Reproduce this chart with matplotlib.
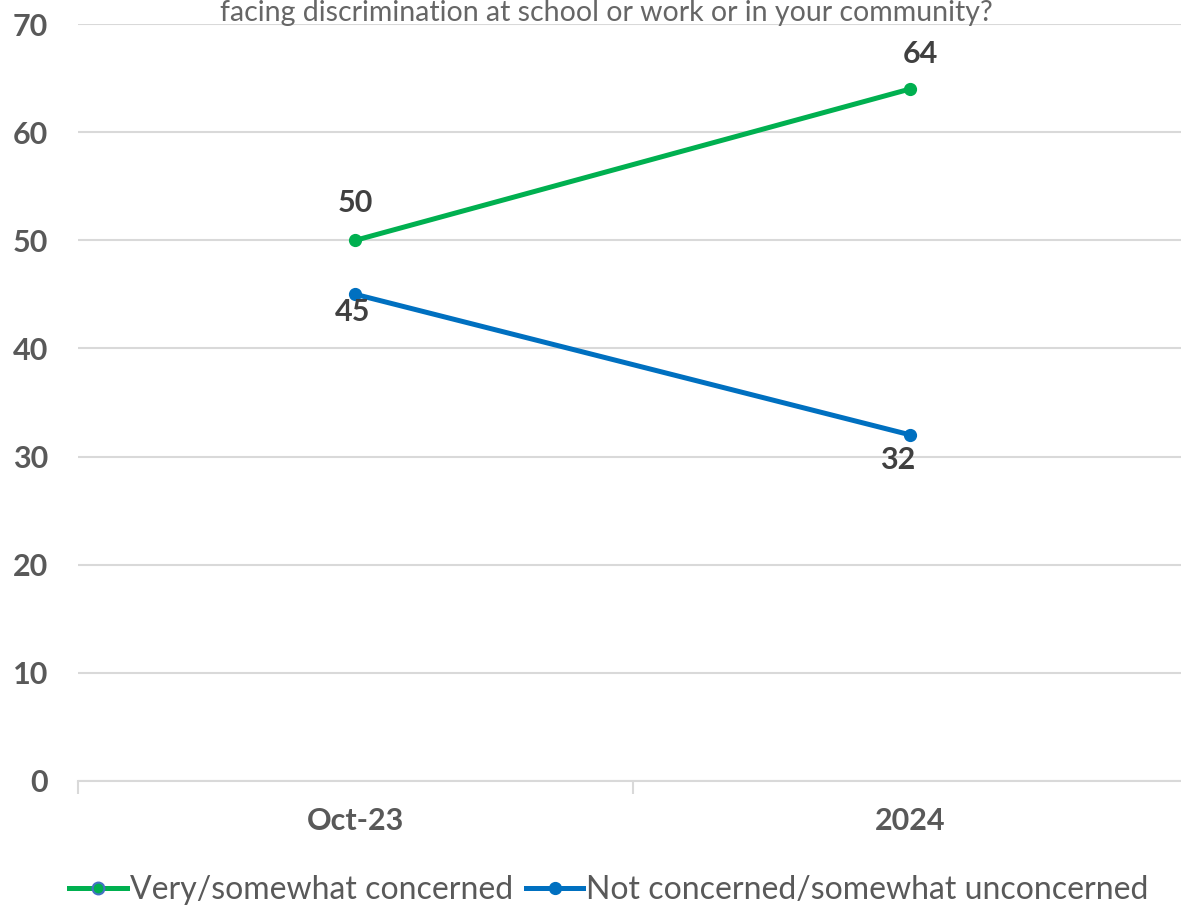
import matplotlib
matplotlib.use("Agg")
import matplotlib.pyplot as plt
from matplotlib.lines import Line2D

categories = ["Oct-23", "2024"]
concerned = [50, 64]
not_concerned = [45, 32]
series_names = ["Very/somewhat concerned", "Not concerned/somewhat unconcerned"]
yticks = [0, 10, 20, 30, 40, 50, 60, 70]
title = "facing discrimination at school or work or in your community?"

plt.rcParams['font.family'] = ['Lato', 'DejaVu Sans']

W, H = 1181, 911
fig = plt.figure(figsize=(W/100, H/100), dpi=100)
ax = fig.add_axes([78/W, (H-781)/H, 1110/W, (781-24)/H])

x = list(range(len(categories)))
green = "#00B050"
blue = "#0070C0"
ax.plot(x, concerned, color=green, lw=3.6, marker='o', ms=8.5, zorder=3)
ax.plot(x, not_concerned, color=blue, lw=3.6, marker='o', ms=8.5, zorder=3)

lab_kw = dict(fontsize=22, fontweight='bold', color='#404040', ha='center', va='center',
              textcoords='offset points')
ax.annotate(str(concerned[0]), (x[0], concerned[0]), xytext=(0, 26.5), **lab_kw)
ax.annotate(str(concerned[1]), (x[1], concerned[1]), xytext=(7.5, 25), **lab_kw)
ax.annotate(str(not_concerned[0]), (x[0], not_concerned[0]), xytext=(-2, -13), **lab_kw)
ax.annotate(str(not_concerned[1]), (x[1], not_concerned[1]), xytext=(-9.5, -18), **lab_kw)

ax.set_xlim(-0.5, 1.5)
ax.set_ylim(0, 70)
ax.set_yticks(yticks)
ax.set_yticklabels([str(v) for v in yticks], fontsize=22, fontweight='bold', color='#595959')
ax.tick_params(axis='y', length=0, pad=21.5)
ax.yaxis.grid(True, color='#D9D9D9', lw=1.5)
ax.set_axisbelow(True)

ax.set_xticks([-0.5, 0.5, 1.5])
ax.set_xticklabels([])
ax.set_xticks(x, minor=True)
ax.set_xticklabels(categories, minor=True, fontsize=22, fontweight='bold', color='#595959')
ax.tick_params(axis='x', which='major', length=9, color='#D9D9D9', width=1.5)
ax.tick_params(axis='x', which='minor', length=0, pad=19)

for s in ['top', 'right', 'left']:
    ax.spines[s].set_visible(False)
ax.spines['bottom'].set_color('#D9D9D9')
ax.spines['bottom'].set_linewidth(1.5)

fig.text(606/W, 1 - 0.5/H, title, ha='center', va='top', fontsize=20.5, fontweight='normal', color='#666666')

handles = [
    Line2D([], [], color=green, lw=3.6, marker='o', ms=8.5, markerfacecolor=green, markeredgecolor='#4472C4', markeredgewidth=1.5),
    Line2D([], [], color=blue, lw=3.6, marker='o', ms=8.5),
]
leg = fig.legend(handles, series_names, loc='center', bbox_to_anchor=(609/W, 1 - 890/H), ncol=2, frameon=False,
                 fontsize=23, handlelength=1.8, handletextpad=0.1, columnspacing=0.4,
                 labelcolor='#595959')

fig.savefig("out.png", dpi=100)
